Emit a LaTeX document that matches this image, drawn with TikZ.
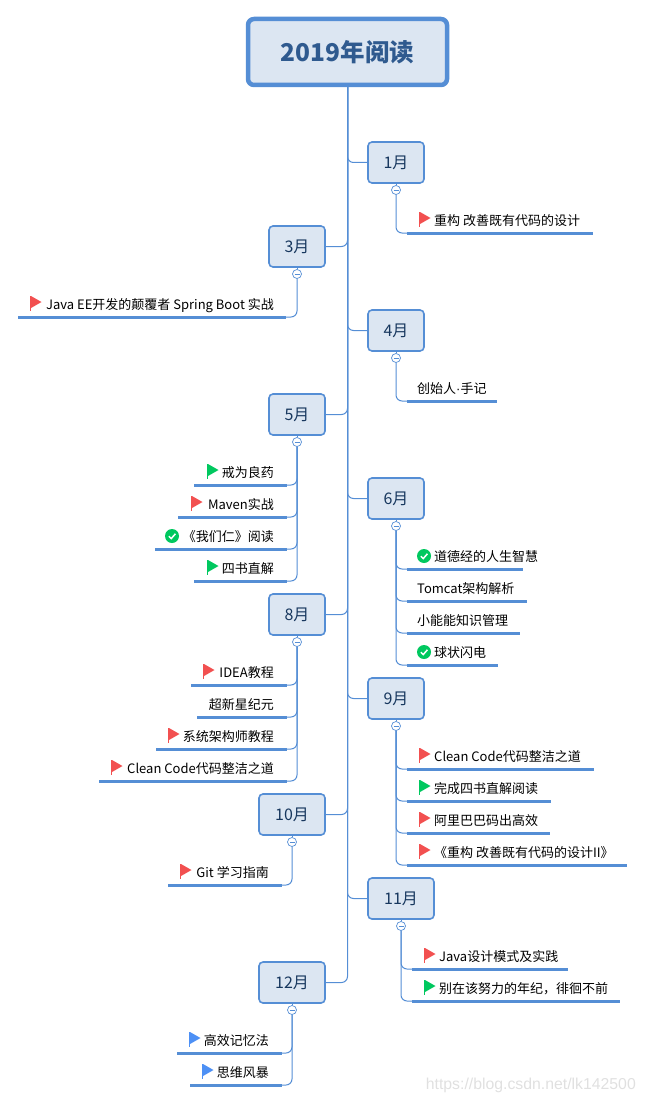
\documentclass[tikz,border=0pt]{standalone}
\usepackage{fontspec}
\setmainfont{Noto Sans CJK SC}
\definecolor{bl}{HTML}{558ED5}
\definecolor{bf}{HTML}{DCE6F2}
\definecolor{tx}{HTML}{17375E}
\definecolor{rt}{HTML}{2F5A8F}
\definecolor{fr}{HTML}{F25050}
\definecolor{fg}{HTML}{00C85F}
\definecolor{fb}{HTML}{4D90F5}
\tikzset{
  month/.style={draw=bl,fill=bf,line width=1.6pt,rounded corners=4pt,inner sep=0pt,text=tx,font=\fontsize{16}{16}\selectfont},
  rootbox/.style={draw=bl,fill=bf,line width=4.5pt,rounded corners=6pt,inner sep=0pt,text=rt,font=\fontsize{24.5}{25}\selectfont\bfseries,minimum width=199pt,minimum height=66pt},
  conn/.style={draw=bl,line width=1pt,rounded corners=6pt},
  stem/.style={draw=bl,line width=1pt},
  under/.style={draw=bl,line width=3pt},
  fold/.style={circle,draw=bl,fill=white,line width=0.7pt,minimum size=9pt,inner sep=0pt,
    path picture={\draw[bl,line width=0.7pt] ([xshift=-2.5pt]path picture bounding box.center) -- ([xshift=2.5pt]path picture bounding box.center);}},
  kid/.style={inner sep=0pt,text=black,font=\fontsize{13}{13}\selectfont},
}
\newcommand{\flagicon}[3]{\fill[#1] (#2-0.4,#3-8) rectangle (#2+1.4,#3+7);\fill[#1] (#2+1,#3-8) -- (#2+11.5,#3-2) -- (#2+1,#3+4) -- cycle;}
\newcommand{\checkicon}[2]{\fill[fg] (#1,#2) circle (7);\draw[white,line width=1.5pt] (#1-3.2,#2+0.2) -- (#1-0.8,#2+2.6) -- (#1+3.4,#2-2.2);}
% name, parent fold, x1, x2, y, icon, text x, text
\newcommand{\kidR}[8]{\draw[under] (#3,#5) coordinate (#1e) -- (#4,#5);
  \draw[conn] (#2.south) |- (#1e);
  #6
  \node[kid,anchor=base west] (#1) at (#7,#5-7.6) {#8};}
\newcommand{\kidL}[8]{\draw[under] (#3,#5) -- (#4,#5) coordinate (#1e);
  \draw[conn] (#2.south) |- (#1e);
  #6
  \node[kid,anchor=base east] (#1) at (#7,#5-7.6) {#8};}
\newcommand{\monthbox}[6]{\node[month,minimum width=#3pt,minimum height=41pt] (#1) at (#4,#5) {\raisebox{-0.8pt}{#6}};
  \node[fold] (#2) at (#4,#5+27.5) {};
  \draw[stem] (#1.south) -- (#2.north);}
\begin{document}
\begin{tikzpicture}[x=1pt,y=-1pt]
\useasboundingbox (0,0) rectangle (645,1102);
\node[rootbox] (root) at (347.5,52) {\raisebox{-0.8pt}{2019年阅读}};
% months
\monthbox{m1}{c1}{56}{396}{162.5}{1月}
\monthbox{m3}{c3}{56}{297}{246.5}{3月}
\monthbox{m4}{c4}{56}{396}{330.5}{4月}
\monthbox{m5}{c5}{56}{297}{414.5}{5月}
\monthbox{m6}{c6}{56}{396}{498.5}{6月}
\monthbox{m8}{c8}{56}{297}{614.5}{8月}
\monthbox{m9}{c9}{56}{396}{698.5}{9月}
\monthbox{m10}{c10}{66}{292}{814.5}{10月}
\monthbox{m11}{c11}{66}{401}{898.5}{11月}
\monthbox{m12}{c12}{66}{292}{982.5}{12月}
% trunk branches
\draw[conn] (root.south) |- (m1.west);
\draw[conn] (root.south) |- (m3.east);
\draw[conn] (root.south) |- (m4.west);
\draw[conn] (root.south) |- (m5.east);
\draw[conn] (root.south) |- (m6.west);
\draw[conn] (root.south) |- (m8.east);
\draw[conn] (root.south) |- (m9.west);
\draw[conn] (root.south) |- (m10.east);
\draw[conn] (root.south) |- (m11.west);
\draw[conn] (root.south) |- (m12.east);
% children
\kidR{a1}{c1}{407}{593}{233}{\flagicon{fr}{419}{220}}{434}{重构 改善既有代码的设计}
\kidL{b1}{c3}{18}{286}{317}{\flagicon{fr}{30}{304}}{274}{Java EE开发的颠覆者 Spring Boot 实战}
\kidR{d1}{c4}{407}{497}{401}{}{417}{创始人{\fontspec{Liberation Sans}·}手记}
\kidL{e1}{c5}{194}{287}{485}{\flagicon{fg}{207}{472}}{274}{戒为良药}
\kidL{e2}{c5}{178}{287}{517}{\flagicon{fr}{191}{504}}{274}{Maven实战}
\kidL{e3}{c5}{155}{287}{549}{\checkicon{172}{536}}{274}{《我们仁》阅读}
\kidL{e4}{c5}{194}{287}{581}{\flagicon{fg}{207}{568}}{274}{四书直解}
\kidR{f1}{c6}{407}{523}{569}{\checkicon{424}{556}}{434}{道德经的人生智慧}
\kidR{f2}{c6}{407}{527}{601}{}{417}{Tomcat架构解析}
\kidR{f3}{c6}{407}{520}{633}{}{417}{小能能知识管理}
\kidR{f4}{c6}{407}{498}{665}{\checkicon{424}{652}}{434}{球状闪电}
\kidL{g1}{c8}{191}{287}{685}{\flagicon{fr}{203}{672}}{274}{IDEA教程}
\kidL{g2}{c8}{197}{287}{717}{}{274}{超新星纪元}
\kidL{g3}{c8}{156}{287}{749}{\flagicon{fr}{168}{736}}{274}{系统架构师教程}
\kidL{g4}{c8}{99}{287}{781}{\flagicon{fr}{111}{768}}{274}{Clean Code代码整洁之道}
\kidR{h1}{c9}{407}{594}{769}{\flagicon{fr}{419}{756}}{434}{Clean Code代码整洁之道}
\kidR{h2}{c9}{407}{551}{801}{\flagicon{fg}{419}{788}}{434}{完成四书直解阅读}
\kidR{h3}{c9}{407}{550}{833}{\flagicon{fr}{419}{820}}{434}{阿里巴巴码出高效}
\kidR{h4}{c9}{407}{627}{865}{\flagicon{fr}{419}{852}}{434}{《重构 改善既有代码的设计II》}
\kidL{i1}{c10}{168}{282}{885}{\flagicon{fr}{180}{872}}{269}{Git 学习指南}
\kidR{j1}{c11}{412}{568}{969}{\flagicon{fr}{424}{956}}{439}{Java设计模式及实践}
\kidR{j2}{c11}{412}{620}{1001}{\flagicon{fg}{424}{988}}{439}{别在该努力的年纪，徘徊不前}
\kidL{l1}{c12}{177}{282}{1053}{\flagicon{fb}{189}{1040}}{269}{高效记忆法}
\kidL{l2}{c12}{190}{282}{1085}{\flagicon{fb}{202}{1072}}{269}{思维风暴}
% watermark
\node[inner sep=0pt,anchor=base east,text=black!12,font=\fontsize{15.8}{16}\fontspec{Liberation Sans}] (wm) at (636,1089.5) {https://blog.csdn.net/lk142500};
\end{tikzpicture}
\end{document}
